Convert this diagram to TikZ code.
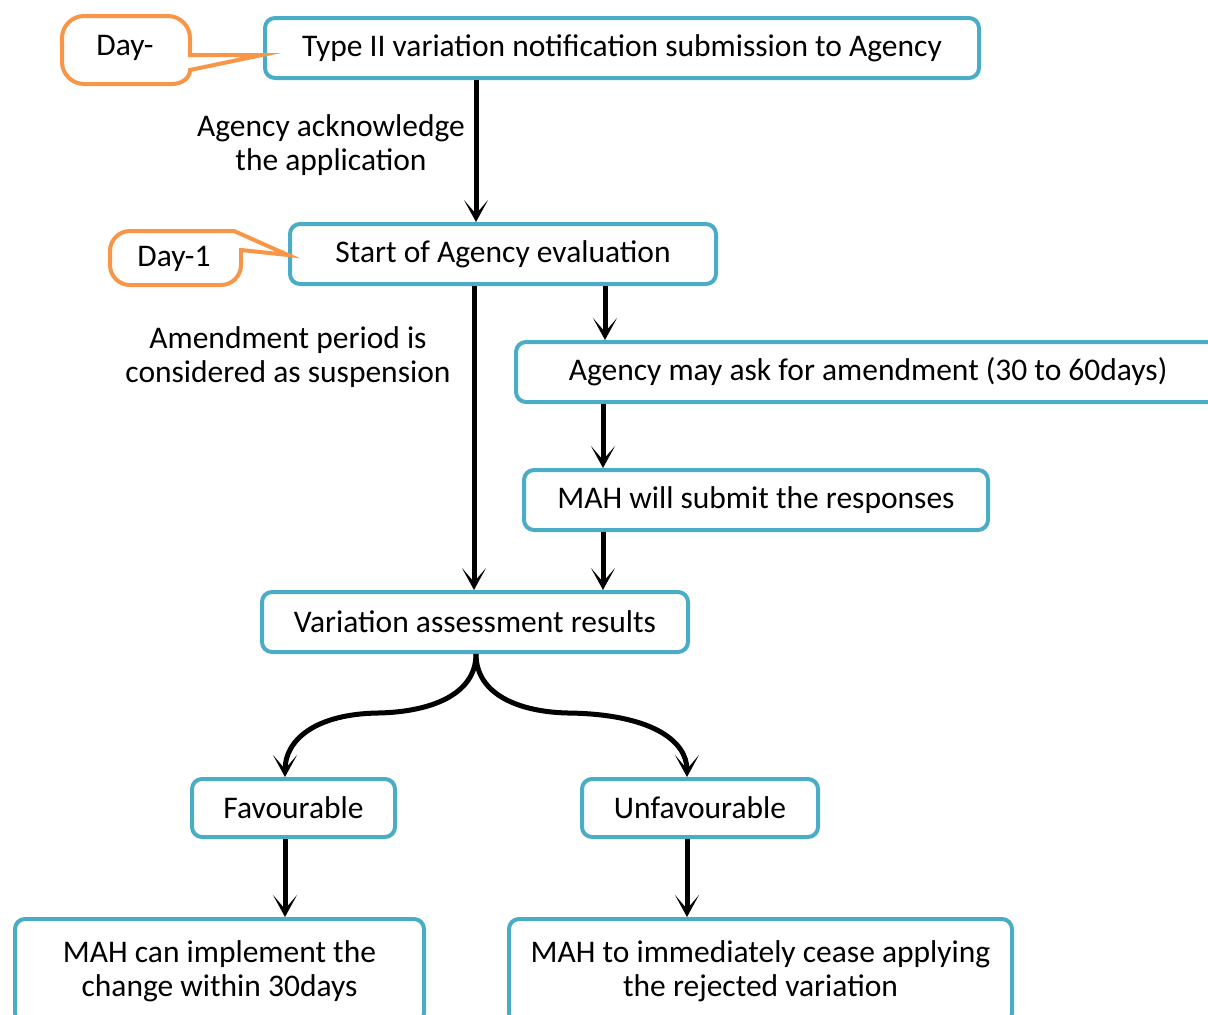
\documentclass[tikz,border=0pt]{standalone}
\usepackage{fontspec}
\setmainfont{Carlito}
\usetikzlibrary{arrows.meta}
\definecolor{boxblue}{HTML}{4BACC6}
\definecolor{calloutorange}{HTML}{F79646}
\begin{document}
\begin{tikzpicture}[x=1pt,y=-1pt,
  txt/.style={font=\fontsize{31.5}{34}\selectfont},
  flowbox/.style={txt, draw=boxblue, line width=4pt, rounded corners=10pt,
    fill=white, inner sep=0pt, align=center, minimum height=60pt},
  callout/.style={draw=calloutorange, line width=4pt, fill=white, line join=miter},
  lbl/.style={txt, align=center, inner sep=0pt},
  flow/.style={line width=5pt,
    -{Stealth[length=22pt,width=24pt,inset=14pt]}}
]
\useasboundingbox (0,0) rectangle (1208,1015);

% process boxes
\node[flowbox, minimum width=714pt] (notif) at (622,48)
  {Type II variation notification submission to Agency};
\node[flowbox, minimum width=426pt] (start) at (503,254)
  {Start of Agency evaluation};
\node[flowbox, minimum width=704pt] (amend) at (868,372)
  {Agency may ask for amendment (30 to 60days)};
\node[flowbox, minimum width=464pt] (resp) at (756,500)
  {MAH will submit the responses};
\node[flowbox, minimum width=426pt] (result) at (475,622)
  {Variation assessment results};
\node[flowbox, minimum width=203pt, minimum height=58pt] (fav) at (293.5,808)
  {Favourable};
\node[flowbox, minimum width=236pt, minimum height=58pt] (unfav) at (700,808)
  {Unfavourable};
\node[flowbox, minimum width=409pt, minimum height=104pt] (impl) at (219.5,971)
  {MAH can implement the\\change within 30days};
\node[flowbox, minimum width=503pt, minimum height=104pt] (cease) at (760.5,971)
  {MAH to immediately cease applying\\the rejected variation};

% side labels
\node[lbl] (ack) at (331,145) {Agency acknowledge\\the application};
\node[lbl] (susp) at (288,357) {Amendment period is\\considered as suspension};

% day callouts: rounded boxes with a pointer tail
\draw[callout] (190,55) -- (190,38) .. controls (190,26) and (180,16) .. (168,16)
  -- (84,16) .. controls (72,16) and (62,26) .. (62,38)
  -- (62,62) .. controls (62,74) and (72,84) .. (84,84)
  -- (172,84) .. controls (182,84) and (190,78) .. (190,70)
  -- (262,55) -- cycle;
\node[lbl] (day0) at (125,48) {Day-};
\draw[callout] (241,250) -- (241,265) .. controls (241,276) and (232,285) .. (221,285)
  -- (130,285) .. controls (119,285) and (110,276) .. (110,265)
  -- (110,251) .. controls (110,240) and (119,231) .. (130,231)
  -- (234,231) -- (288,255) -- cycle;
\node[lbl] (day1) at (174,259) {Day-1};

% connector columns
\coordinate (xa) at (476,0);
\coordinate (xb) at (474,0);
\coordinate (xc) at (605,0);
\coordinate (xd) at (603,0);
\coordinate (xf) at (285,0);
\coordinate (xu) at (687,0);

\draw[flow] (notif.south -| xa) -- (start.north -| xa);
\draw[flow] (start.south -| xb) -- (result.north -| xb);
\draw[flow] (start.south -| xc) -- (amend.north -| xc);
\draw[flow] (amend.south -| xd) -- (resp.north -| xd);
\draw[flow] (resp.south -| xd) -- (result.north -| xd);

% branching to the two outcomes
\coordinate (split) at (result.south -| xa);
\coordinate (lmid) at (378,713);
\coordinate (rmid) at (568,713);
\draw[flow] (split) .. controls (476,695) and (430,712) .. (lmid)
  .. controls (315,714) and (285,740) .. (fav.north -| xf);
\draw[flow] (split) .. controls (476,695) and (520,712) .. (rmid)
  .. controls (650,714) and (687,740) .. (unfav.north -| xu);

\draw[flow] (fav.south -| xf) -- (impl.north -| xf);
\draw[flow] (unfav.south -| xu) -- (cease.north -| xu);
\end{tikzpicture}
\end{document}
